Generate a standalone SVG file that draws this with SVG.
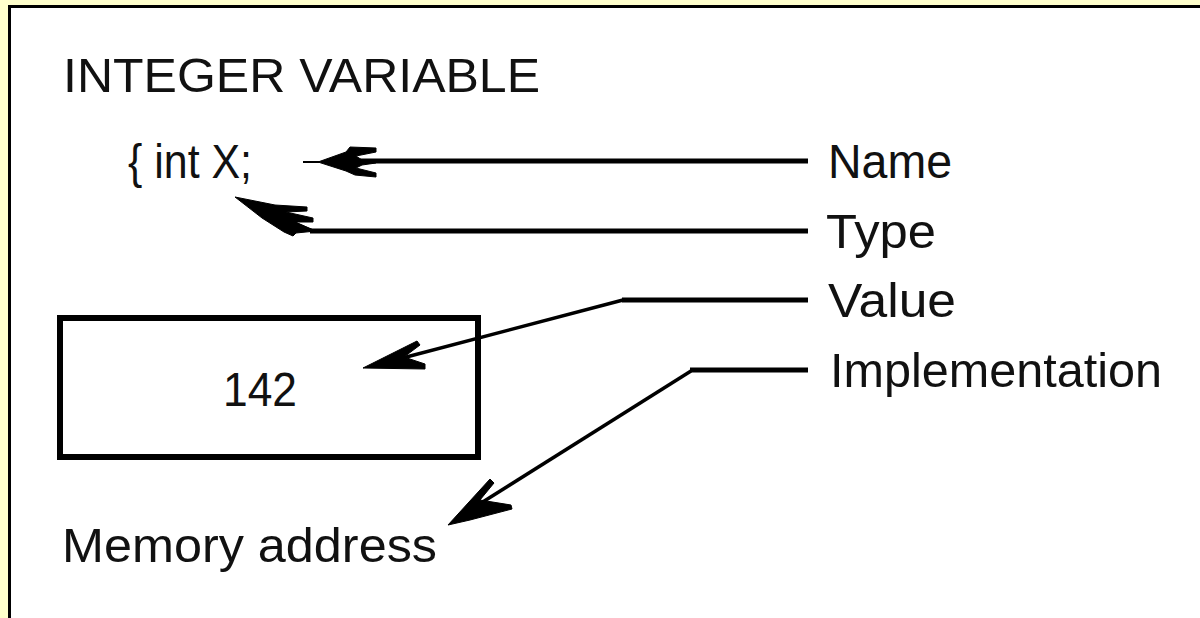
<svg xmlns="http://www.w3.org/2000/svg" width="1200" height="618" viewBox="0 0 1200 618">
  <style>
    .lbl { font-family: "Liberation Sans", Arial, sans-serif; font-size: 48px; fill: #111; }
    .hline { stroke: #000; stroke-width: 5; fill: none; }
    .dline { stroke: #000; stroke-width: 3.5; fill: none; stroke-linejoin: miter; }
    .head { fill: #000; stroke: #000; stroke-width: 1; stroke-linejoin: miter; }
  </style>

  <!-- page frame -->
  <rect x="0" y="0" width="1200" height="618" fill="#ffffcc"/>
  <rect x="9.5" y="6.5" width="1200" height="640" fill="#ffffff" stroke="#000" stroke-width="3"/>

  <g id="title">
    <text class="lbl" x="63" y="92" textLength="477" lengthAdjust="spacingAndGlyphs">INTEGER VARIABLE</text>
  </g>

  <g id="declaration">
    <text class="lbl" x="128" y="178" textLength="124" lengthAdjust="spacingAndGlyphs">{ int X;</text>
  </g>

  <g id="value-box">
    <rect x="60" y="318" width="418" height="139" fill="none" stroke="#000" stroke-width="6"/>
    <text class="lbl" x="223" y="406" textLength="74" lengthAdjust="spacingAndGlyphs">142</text>
  </g>

  <g id="memory-address">
    <text class="lbl" x="62" y="562" textLength="375" lengthAdjust="spacingAndGlyphs">Memory address</text>
  </g>

  <g id="label-name">
    <text class="lbl" x="828" y="178" textLength="124" lengthAdjust="spacingAndGlyphs">Name</text>
  </g>
  <g id="label-type">
    <text class="lbl" x="826" y="248" textLength="110" lengthAdjust="spacingAndGlyphs">Type</text>
  </g>
  <g id="label-value">
    <text class="lbl" x="828" y="317" textLength="128" lengthAdjust="spacingAndGlyphs">Value</text>
  </g>
  <g id="label-implementation">
    <text class="lbl" x="830" y="387" textLength="332" lengthAdjust="spacingAndGlyphs">Implementation</text>
  </g>

  <g id="connectors">
    <!-- Name -> declaration -->
    <path class="hline" d="M808,161 L360,161"/>
    <path d="M303,162 L320,162" stroke="#000" stroke-width="2"/>
    <path class="head" d="M318,162 L346,152 L350,147 L376,148 L376,152 L356,156 L362,160 L376,162 L376,163 L362,165 L356,168 L376,173 L376,177 L355,175 L346,171 Z"/>

    <!-- Type -> declaration -->
    <path class="hline" d="M808,231 L310,231"/>
    <path class="dline" d="M312,231 L250,203"/>
    <path class="head" d="M235,197 L275,205 L307,207 L307,211 L286,212 L313,218 L313,222 L295,222 L316,231 L296,233 L293,236 L284,232 L262,218 Z"/>

    <!-- Value -> value cell -->
    <path class="hline" d="M808,300 L622,300"/>
    <path class="dline" d="M623,300 L395,360"/>
    <path class="head" d="M363,368 L417,341 L420,345 L404,357 L425,364 L425,369 Z"/>

    <!-- Implementation -> memory address -->
    <path class="hline" d="M808,370 L690,370"/>
    <path class="dline" d="M691,371 L470,510"/>
    <path class="head" d="M448,525 L490,479 L494,483 L480,500 L511,505 L512,509 L470,520 Z"/>
  </g>
</svg>
